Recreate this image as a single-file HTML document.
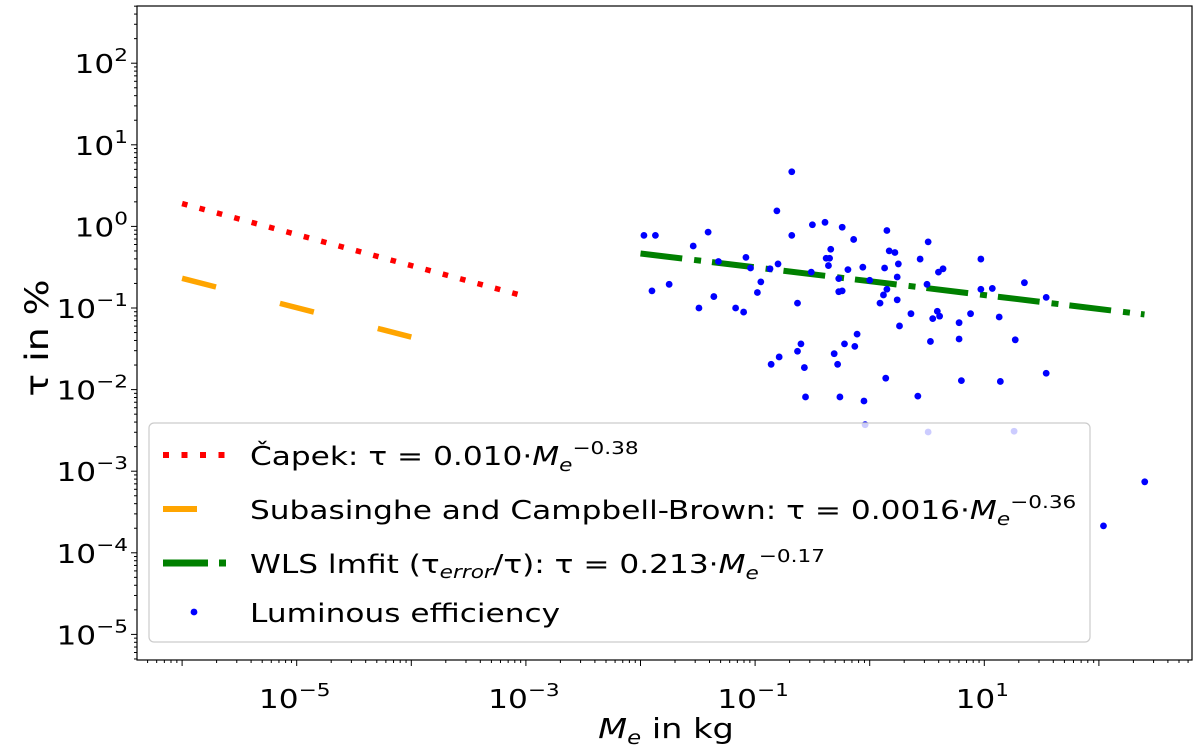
<!DOCTYPE html>
<html><head><meta charset="utf-8"><style>
body{margin:0;background:#fff;}
svg{display:block;font-family:"DejaVu Sans","Liberation Sans",sans-serif;}
</style></head><body>
<svg id="chart" width="1200" height="748" xmlns="http://www.w3.org/2000/svg">
<g id="marks"></g>
<g id="axes"></g>
<g id="legend"></g>
</svg>
<script>
// data (log10 of mass in kg, log10 of tau in %)
const logMass = [-0.68,-0.81,-1.97,-1.87,-1.41,-0.68,-0.50,-0.39,-0.24,-0.14,0.15,-1.54,-1.08,-1.32,-1.04,-0.87,-0.80,-0.34,-0.38,-0.35,-0.36,-0.51,-0.27,-0.19,-0.06,0.13,0.17,0.22,0.25,0.24,0.00,-1.90,-1.75,-0.95,-0.98,-1.36,-1.49,-1.17,-1.10,-0.63,-0.27,-0.24,0.15,0.12,0.09,0.24,0.26,-0.11,-0.22,-0.13,-0.60,-0.63,-0.79,-0.86,-0.57,-0.31,-0.28,0.14,-0.56,-0.26,-0.05,-0.04,0.51,0.44,0.97,0.64,0.60,0.50,0.97,1.07,1.35,1.54,0.36,0.59,0.61,0.55,0.88,1.13,0.78,0.53,0.78,1.27,0.80,1.14,1.54,0.42,0.51,1.26,2.40,2.04];
const logTau = [0.67,0.19,-0.11,-0.11,-0.07,-0.11,0.02,0.05,-0.01,-0.16,-0.05,-0.24,-0.38,-0.43,-0.51,-0.52,-0.46,-0.28,-0.39,-0.39,-0.48,-0.56,-0.64,-0.53,-0.50,-0.51,-0.30,-0.32,-0.46,-0.62,-0.66,-0.79,-0.71,-0.68,-0.81,-0.86,-1.00,-1.00,-1.05,-0.94,-0.80,-0.79,-0.77,-0.84,-0.94,-0.90,-1.22,-1.32,-1.44,-1.47,-1.44,-1.53,-1.60,-1.69,-1.73,-1.56,-1.69,-1.86,-2.09,-2.09,-2.14,-2.43,-0.19,-0.40,-0.40,-0.52,-0.56,-0.71,-0.77,-0.76,-0.69,-0.87,-1.07,-1.04,-1.10,-1.13,-1.07,-1.11,-1.18,-1.41,-1.38,-1.39,-1.89,-1.90,-1.80,-2.08,-2.52,-2.51,-3.13,-3.67];
const fitCoef = [0.010, 0.0016, 0.213];
const fitExp = [-0.38, -0.36, -0.17];
const fitRange = [[1e-6,1e-3],[1e-6,1e-4],[1e-2,250]];
const xTickExps = [-5,-3,-1,1];
const yTickExps = [2,1,0,-1,-2,-3,-4,-5];

const NS='http://www.w3.org/2000/svg';
const L=137,R=1192,T=6,B=660;
const X0=296.7, XD=114.6, Y0=226.4, YD=81.6;
const xs=lx=>X0+(lx+5)*XD;
const ys=ly=>Y0-ly*YD;
const SX=1.2;
function el(tag,attrs,parent){const e=document.createElementNS(NS,tag);for(const k in attrs)e.setAttribute(k,attrs[k]);parent.appendChild(e);return e;}
function stext(x,y,size,anchor,html,parent){
  const t=el('text',{x:0,y:0,'text-anchor':anchor,'font-size':size,transform:'translate('+x+','+y+') scale('+SX+',1)'},parent);
  t.innerHTML=html;return t;
}
const marks=document.getElementById('marks'),axes=document.getElementById('axes'),leg=document.getElementById('legend');
const cp=el('clipPath',{id:'clip'},marks);
el('rect',{x:L,y:T,width:R-L,height:B-T},cp);

const styles=[{c:'#ff0000',d:'5.5 12.5',w:5.5},{c:'#ffa500',d:'35 66',w:5.5},{c:'#008000',d:'42 12 7 11',w:6}];
const names=['capek-fit-line','subasinghe-fit-line','wls-fit-line'];
for(let i=0;i<3;i++){
  const a=Math.log10(fitRange[i][0]),b=Math.log10(fitRange[i][1]);
  const ya=Math.log10(fitCoef[i])+fitExp[i]*a, yb=Math.log10(fitCoef[i])+fitExp[i]*b;
  const ln=el('line',{x1:xs(a),y1:ys(ya),x2:xs(b),y2:ys(yb),stroke:styles[i].c,'stroke-width':styles[i].w,'stroke-dasharray':styles[i].d},marks);
  
  
}
for(let i=0;i<logMass.length;i++){
  const c=el('circle',{cx:xs(logMass[i]),cy:ys(logTau[i]),r:3.4,fill:'#0000ff','clip-path':'url(#clip)'},marks);
  
  
}
const fr=el('rect',{x:L,y:T,width:R-L,height:B-T,fill:'none',stroke:'#000','stroke-width':1.2},axes);


for(let e=-6;e<=2;e++){
  for(let m=1;m<10;m++){
    const y=ys(e+Math.log10(m)); if(y<T||y>B)continue;
    el('line',{x1:L,x2:L-(m==1?6:3),y1:y,y2:y,stroke:'#000','stroke-width':1},axes);
  }
}
yTickExps.forEach(e=>{
  const t=stext(128,ys(e)+10,26,'end','10<tspan dy="-12" font-size="18">'+(e<0?'\u2212'+(-e):e)+'</tspan>',axes);
  
  
});
for(let e=-7;e<=2;e++){
  for(let m=1;m<10;m++){
    const x=xs(e+Math.log10(m)); if(x<L||x>R)continue;
    el('line',{x1:x,x2:x,y1:B,y2:B+(m==1?6:3),stroke:'#000','stroke-width':1},axes);
  }
}
xTickExps.forEach(e=>{
  const t=stext(xs(e)-2,B+48,26,'middle','10<tspan dy="-12" font-size="18">'+(e<0?'\u2212'+(-e):e)+'</tspan>',axes);
  
  
});
const xt=stext(666,738,28,'middle','<tspan font-style="italic">M</tspan><tspan font-style="italic" font-size="19" dy="6">e</tspan><tspan dy="-6"> in kg</tspan>',axes);


const yt=el('text',{x:0,y:0,'text-anchor':'middle','font-size':28,transform:'translate(48,338) rotate(-90) scale(1.35,1.15)'},axes);
yt.textContent='τ in %';


const box=el('rect',{x:149,y:423,width:941,height:219,rx:5,fill:'rgba(255,255,255,0.8)',stroke:'#cccccc','stroke-width':1.2},leg);


const rows=[455,509,563,612];
const labels=['Čapek: τ = 0.010·<tspan font-style="italic">M</tspan><tspan font-style="italic" font-size="18" dy="6">e</tspan><tspan font-size="18" dy="-17">−0.38</tspan>',
'Subasinghe and Campbell-Brown: τ = 0.0016·<tspan font-style="italic">M</tspan><tspan font-style="italic" font-size="18" dy="6">e</tspan><tspan font-size="18" dy="-17">−0.36</tspan>',
'WLS lmfit (τ<tspan font-style="italic" font-size="18" dy="5">error</tspan><tspan dy="-5">/τ): τ = 0.213·</tspan><tspan font-style="italic">M</tspan><tspan font-style="italic" font-size="18" dy="6">e</tspan><tspan font-size="18" dy="-17">−0.17</tspan>',
'Luminous efficiency'];
const lstyles=[{c:'#ff0000',d:'6 12.5',w:6,x2:229},{c:'#ffa500',d:'',w:6,x2:197},{c:'#008000',d:'45 11 7 100',w:7,x2:229}];
for(let i=0;i<4;i++){
  const g=el('g',{},leg);
  
  
  if(i<3) el('line',{x1:163,x2:lstyles[i].x2,y1:rows[i],y2:rows[i],stroke:lstyles[i].c,'stroke-width':lstyles[i].w,'stroke-dasharray':lstyles[i].d},g);
  else el('circle',{cx:194,cy:rows[i],r:3.4,fill:'#0000ff'},g);
  stext(250,rows[i]+10,26,'start',labels[i],g);
}
</script>
</body></html>
